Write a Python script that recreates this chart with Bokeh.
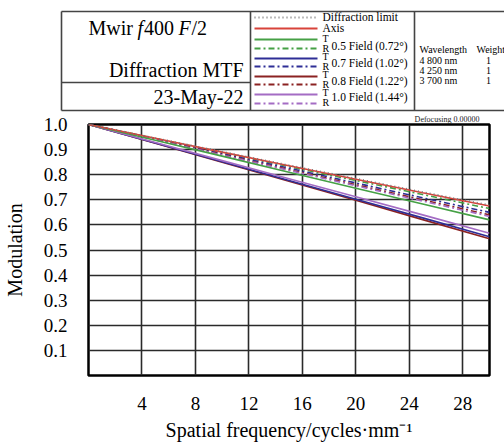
from bokeh.plotting import figure
from bokeh.layouts import column, row
from bokeh.models import Range1d, FixedTicker, PrintfTickFormatter, Title
from bokeh.core.properties import value
from bokeh.embed import file_html
from bokeh.resources import INLINE

FONT = "Liberation Serif"

# ---------------- data ----------------
freq = [0, 5, 10, 15, 20, 25, 30]
diffraction_limit = [1.0, 0.946, 0.892, 0.838, 0.785, 0.731, 0.679]
axis_mtf = [1.0, 0.945, 0.890, 0.836, 0.782, 0.728, 0.675]
f05_T = [1.0, 0.937, 0.874, 0.810, 0.746, 0.683, 0.620]
f05_R = [1.0, 0.944, 0.888, 0.832, 0.777, 0.721, 0.665]
f07_T = [1.0, 0.926, 0.852, 0.777, 0.702, 0.628, 0.553]
f07_R = [1.0, 0.942, 0.884, 0.826, 0.767, 0.708, 0.650]
f08_T = [1.0, 0.925, 0.850, 0.774, 0.698, 0.621, 0.545]
f08_R = [1.0, 0.940, 0.880, 0.820, 0.760, 0.700, 0.640]
f10_T = [1.0, 0.928, 0.856, 0.784, 0.712, 0.640, 0.567]
f10_R = [1.0, 0.939, 0.878, 0.817, 0.756, 0.695, 0.634]

x_ticks = [4, 8, 12, 16, 20, 24, 28]
y_ticks = [0.1, 0.2, 0.3, 0.4, 0.5, 0.6, 0.7, 0.8, 0.9, 1.0]

field_labels = ["0.5 Field (0.72\u00b0)", "0.7 Field (1.02\u00b0)",
                "0.8 Field (1.22\u00b0)", "1.0 Field (1.44\u00b0)"]
wavelengths = ["4 800 nm", "4 250 nm", "3 700 nm"]
weights = ["1", "1", "1"]

title_line2 = "Diffraction MTF"
date_text = "23-May-22"
defocus_text = "Defocusing 0.00000"

# ---------------- styles ----------------
C_DIFF = "#777777"
C_AXIS = "#d8433a"
C_G = "#45a045"
C_B = "#2e2e96"
C_BR = "#8b2222"
C_P = "#a46cc4"
DOT = "1 3"
DASHDOT = "6 3 2 3"

# (values, color, dash, legend row y in header pixels)
series = [
    (f05_R, C_G, DASHDOT, 48),
    (f07_R, C_B, DASHDOT, 66),
    (f08_R, C_BR, DASHDOT, 84),
    (f10_R, C_P, DASHDOT, 103),
    (f08_T, C_BR, "solid", 76),
    (f07_T, C_B, "solid", 58),
    (f10_T, C_P, "solid", 94),
    (f05_T, C_G, "solid", 39),
    (axis_mtf, C_AXIS, "solid", 28),
    (diffraction_limit, C_DIFF, DOT, 17),
]

# ---------------- header ----------------
HH = 112
hdr = figure(width=504, height=HH, x_range=Range1d(0, 504), y_range=Range1d(HH, 0),
             output_backend="svg", toolbar_location=None, title=None,
             x_axis_type=None, y_axis_type=None, min_border=0,
             min_border_left=0, min_border_right=0, min_border_top=0, min_border_bottom=0,
             outline_line_color=None)
hdr.xgrid.visible = False
hdr.ygrid.visible = False

BOX_L, BOX_T, BOX_B = 61, 11, 110
V1, V2 = 250, 414
hdr.segment(x0=[BOX_L, BOX_L, BOX_L, V1, V2, BOX_L],
            y0=[BOX_T, BOX_B, BOX_T, BOX_T, BOX_T, 82],
            x1=[506, 506, BOX_L, V1, V2, V1],
            y1=[BOX_T, BOX_B, BOX_B, BOX_B, BOX_B, 82],
            line_color="#444444", line_width=1.6)

# title "Mwir f400 F/2" (mixed upright / italic pieces)
TS = value("20px")
TY = 27
hdr.text(x=[88], y=[TY], text=["Mwir"], text_font=value(FONT), text_font_size=TS,
         text_baseline="middle", text_align="left")
hdr.text(x=[137], y=[TY], text=["f"], text_font=value(FONT), text_font_size=TS,
         text_font_style="italic", text_baseline="middle", text_align="left")
hdr.text(x=[143.5], y=[TY], text=["400"], text_font=value(FONT), text_font_size=TS,
         text_baseline="middle", text_align="left")
hdr.text(x=[178], y=[TY], text=["F"], text_font=value(FONT), text_font_size=TS,
         text_font_style="italic", text_baseline="middle", text_align="left")
hdr.text(x=[191], y=[TY], text=["/2"], text_font=value(FONT), text_font_size=TS,
         text_baseline="middle", text_align="left")
hdr.text(x=[243, 243], y=[69, 96], text=[title_line2, date_text],
         text_font=value(FONT), text_font_size=TS,
         text_baseline="middle", text_align="right", text_color="black")

# legend samples
for vals, col, dash, ly in series:
    hdr.line(x=[254, 317], y=[ly, ly], line_color=col, line_dash=dash, line_width=1.8)

hdr.text(x=[322, 322], y=[16, 27], text=["Diffraction limit", "Axis"],
         text_font=value(FONT), text_font_size=value("11.5px"),
         text_baseline="middle", text_align="left")
hdr.text(x=[322] * 4, y=[38, 56, 74, 92], text=["T"] * 4,
         text_font=value(FONT), text_font_size=value("10px"),
         text_baseline="middle", text_align="left")
hdr.text(x=[322] * 4, y=[48, 66, 84, 102], text=["R"] * 4,
         text_font=value(FONT), text_font_size=value("10px"),
         text_baseline="middle", text_align="left")
hdr.text(x=[331] * 4, y=[45, 62, 80, 96], text=field_labels,
         text_font=value(FONT), text_font_size=value("11.5px"),
         text_baseline="middle", text_align="left")

# wavelength table
hdr.text(x=[419, 476], y=[49, 49], text=["Wavelength", "Weight"],
         text_font=value(FONT), text_font_size=value("10px"),
         text_baseline="middle", text_align="left")
hdr.text(x=[419] * 3, y=[60, 70, 80], text=wavelengths,
         text_font=value(FONT), text_font_size=value("10px"),
         text_baseline="middle", text_align="left")
hdr.text(x=[488] * 3, y=[60, 70, 80], text=weights,
         text_font=value(FONT), text_font_size=value("10px"),
         text_baseline="middle", text_align="center")

# ---------------- main plot ----------------
p = figure(width=504, height=443 - HH, x_range=Range1d(0, 30), y_range=Range1d(0, 1),
           output_backend="svg", toolbar_location=None, title=None,
           min_border_left=86, min_border_right=15, min_border_top=12, min_border_bottom=66,
           outline_line_color="black", outline_line_width=2.5)

p.add_layout(Title(text=defocus_text, align="right", offset=10, standoff=1,
                   text_font=FONT, text_font_size="8px", text_font_style="normal",
                   text_color="#222222"), "above")

for vals, col, dash, ly in series:
    p.line(freq, vals, line_color=col, line_dash=dash, line_width=1.6)

p.xaxis.ticker = FixedTicker(ticks=x_ticks)
p.yaxis.ticker = FixedTicker(ticks=y_ticks)
p.yaxis.formatter = PrintfTickFormatter(format="%.1f")
for ax in (p.xaxis, p.yaxis):
    ax.axis_line_color = None
    ax.major_tick_line_color = None
    ax.minor_tick_line_color = None
    ax.major_label_text_font = FONT
    ax.major_label_text_font_size = "19px"
    ax.major_label_text_color = "black"
    ax.axis_label_text_font = FONT
    ax.axis_label_text_font_size = "20px"
    ax.axis_label_text_font_style = "normal"
    ax.axis_label_text_color = "black"
p.xaxis.major_label_standoff = 15
p.yaxis.major_label_standoff = 15
p.xaxis.axis_label = "Spatial frequency/cycles\u00b7mm\u207b\u00b9"
p.yaxis.axis_label = "Modulation"
p.xaxis.axis_label_standoff = 6
p.yaxis.axis_label_standoff = 15

p.xgrid.grid_line_color = "#2a2a2a"
p.ygrid.grid_line_color = "#2a2a2a"
p.xgrid.grid_line_width = 1.6
p.ygrid.grid_line_width = 1.6

try:
    hdr.frame_align = False
    p.frame_align = False
    layout = column(hdr, p, spacing=0)
except Exception:
    layout = column(row(hdr), row(p), spacing=0)

open("out.html", "w").write(file_html(layout, INLINE))
